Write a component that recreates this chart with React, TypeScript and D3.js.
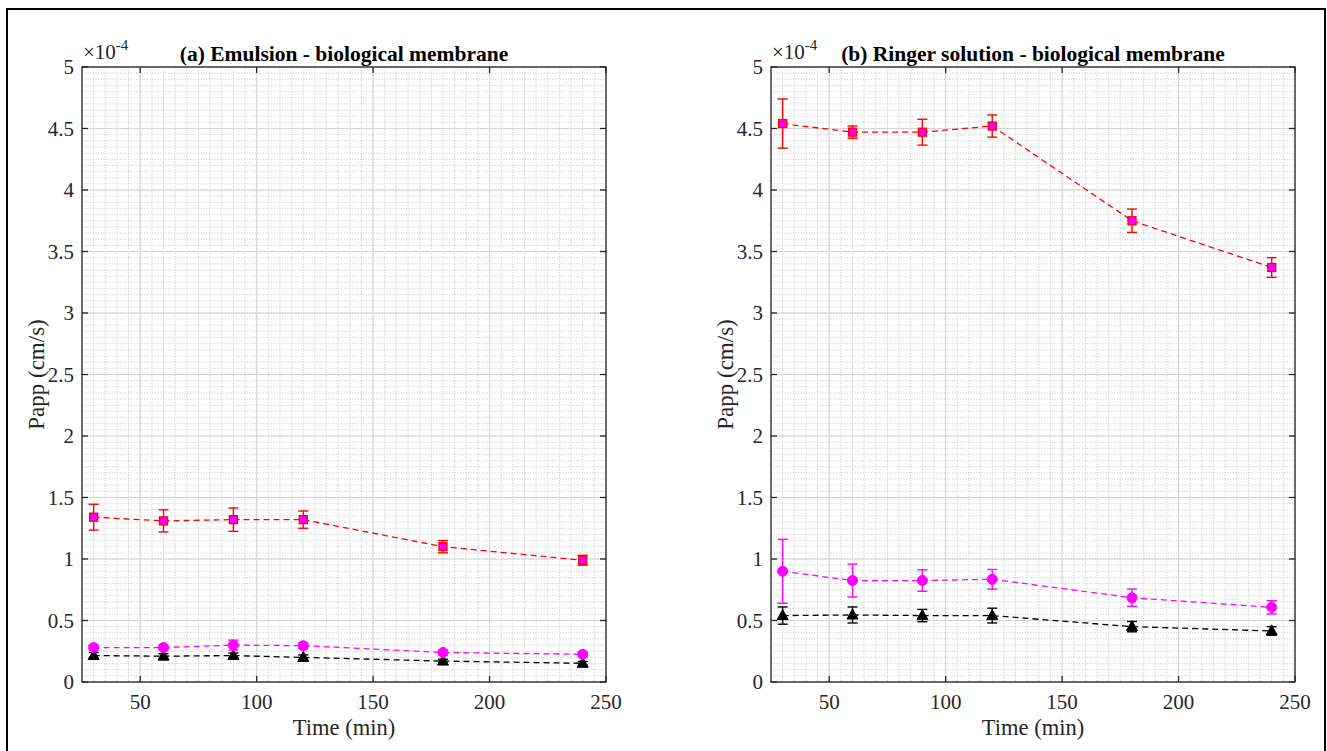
import React from "react";
import * as d3 from "d3";

const times = [30, 60, 90, 120, 180, 240];
const xTicks = [50, 100, 150, 200, 250];
const yTicks = [0, 0.5, 1, 1.5, 2, 2.5, 3, 3.5, 4, 4.5, 5];
const yTickLabels = ["0", "0.5", "1", "1.5", "2", "2.5", "3", "3.5", "4", "4.5", "5"];

// panel (a) values in units of 1e-4 cm/s
const aRed = [1.34, 1.31, 1.32, 1.32, 1.1, 0.99];
const aRedErr = [0.105, 0.09, 0.095, 0.07, 0.05, 0.04];
const aMag = [0.28, 0.28, 0.3, 0.295, 0.24, 0.225];
const aMagErr = [0.02, 0.02, 0.04, 0.025, 0.02, 0.02];
const aBlk = [0.215, 0.21, 0.215, 0.2, 0.17, 0.152];
const aBlkErr = [0.025, 0.02, 0.02, 0.02, 0.015, 0.015];

// panel (b)
const bRed = [4.54, 4.47, 4.47, 4.52, 3.75, 3.37];
const bRedErr = [0.2, 0.05, 0.105, 0.09, 0.095, 0.08];
const bMag = [0.9, 0.825, 0.825, 0.835, 0.685, 0.607];
const bMagErr = [0.26, 0.134, 0.087, 0.08, 0.07, 0.054];
const bBlk = [0.54, 0.545, 0.54, 0.54, 0.45, 0.415];
const bBlkErr = [0.07, 0.065, 0.05, 0.06, 0.042, 0.035];

const titles = ["(a) Emulsion - biological membrane", "(b) Ringer solution - biological membrane"];

const FONT = "'Liberation Serif', 'Times New Roman', Tinos, 'DejaVu Serif', serif";

type Series = { y: number[]; err: number[]; color: string; marker: "square" | "circle" | "triangle" };

function Panel({ left, title, series }: { left: number; title: string; series: Series[] }) {
  const top = 67;
  const bottom = 682;
  const width = 524;
  const x = d3.scaleLinear().domain([25, 250]).range([left, left + width]);
  const y = d3.scaleLinear().domain([0, 5]).range([bottom, top]);
  const minorX = d3.range(25, 250.01, 5);
  const minorY = d3.range(0, 5.001, 0.05);
  const line = d3
    .line<number>()
    .x((_, i) => x(times[i]))
    .y((d) => y(d));
  const boxColor = "#262626";
  const cx = left + width / 2;
  const tf = { fontFamily: FONT };
  return (
    <g>
      {minorX.map((v, i) => (
        <line key={"mx" + i} x1={x(v)} x2={x(v)} y1={top} y2={bottom} stroke="#bdbdbd" strokeWidth={0.7} strokeDasharray="1.2,1.5" />
      ))}
      {minorY.map((v, i) => (
        <line key={"my" + i} x1={left} x2={left + width} y1={y(v)} y2={y(v)} stroke="#bdbdbd" strokeWidth={0.7} strokeDasharray="1.2,1.5" />
      ))}
      {xTicks.map((v) => (
        <line key={"gx" + v} x1={x(v)} x2={x(v)} y1={top} y2={bottom} stroke="#d4d4d4" strokeWidth={1} />
      ))}
      {yTicks.map((v) => (
        <line key={"gy" + v} x1={left} x2={left + width} y1={y(v)} y2={y(v)} stroke="#d4d4d4" strokeWidth={1} />
      ))}
      {series.map((s, si) => (
        <g key={"s" + si}>
          <path d={line(s.y) || ""} fill="none" stroke={s.color} strokeWidth={1.3} strokeDasharray="6,4" />
          {s.y.map((v, i) => {
            const px = x(times[i]);
            const y1 = y(v + s.err[i]);
            const y2 = y(v - s.err[i]);
            const c = s.color;
            return (
              <g key={"e" + i}>
                <line x1={px} x2={px} y1={y1} y2={y2} stroke={c} strokeWidth={1.4} />
                <line x1={px - 5} x2={px + 5} y1={y1} y2={y1} stroke={c} strokeWidth={1.4} />
                <line x1={px - 5} x2={px + 5} y1={y2} y2={y2} stroke={c} strokeWidth={1.4} />
              </g>
            );
          })}
          {s.y.map((v, i) => {
            const px = x(times[i]);
            const py = y(v);
            if (s.marker === "square")
              return <rect key={"m" + i} x={px - 4} y={py - 4} width={8} height={8} fill="#ff00ff" stroke="#ff0000" strokeWidth={1.3} />;
            if (s.marker === "circle") return <circle key={"m" + i} cx={px} cy={py} r={5} fill="#ff00ff" stroke="#ff00ff" strokeWidth={1} />;
            return (
              <path key={"m" + i} d={`M${px},${py - 6} L${px + 5.5},${py + 4} L${px - 5.5},${py + 4} Z`} fill="#000" stroke="#000" strokeWidth={1} />
            );
          })}
        </g>
      ))}
      <rect x={left} y={top} width={width} height={bottom - top} fill="none" stroke={boxColor} strokeWidth={1.3} />
      {xTicks.map((v) => (
        <g key={"tx" + v}>
          <line x1={x(v)} x2={x(v)} y1={bottom} y2={bottom - 6} stroke={boxColor} strokeWidth={1.3} />
          <line x1={x(v)} x2={x(v)} y1={top} y2={top + 6} stroke={boxColor} strokeWidth={1.3} />
          <text x={x(v)} y={708.5} textAnchor="middle" style={tf} fontSize={21} fill="#262626">
            {v}
          </text>
        </g>
      ))}
      {yTicks.map((v, i) => (
        <g key={"ty" + v}>
          <line x1={left} x2={left + 6} y1={y(v)} y2={y(v)} stroke={boxColor} strokeWidth={1.3} />
          <line x1={left + width} x2={left + width - 6} y1={y(v)} y2={y(v)} stroke={boxColor} strokeWidth={1.3} />
          <text x={left - 8} y={y(v) + 7} textAnchor="end" style={tf} fontSize={21} fill="#262626">
            {yTickLabels[i]}
          </text>
        </g>
      ))}
      <text x={left + 1} y={59} style={tf} fontSize={21} fill="#262626">
        ×10
        <tspan dy={-9} fontSize={15}>-4</tspan>
      </text>
      <text x={cx} y={61} textAnchor="middle" style={tf} fontSize={21.5} fontWeight="bold" fill="#000">
        {title}
      </text>
      <text x={cx} y={735} textAnchor="middle" style={tf} fontSize={22.5} fill="#262626">
        Time (min)
      </text>
      <text
        transform={`translate(${left - 38},${(top + bottom) / 2}) rotate(-90)`}
        textAnchor="middle"
        style={tf}
        fontSize={23}
        fill="#262626"
      >
        Papp (cm/s)
      </text>
    </g>
  );
}

export default function App() {
  const seriesA: Series[] = [
    { y: aRed, err: aRedErr, color: "#ff0000", marker: "square" },
    { y: aMag, err: aMagErr, color: "#ff00ff", marker: "circle" },
    { y: aBlk, err: aBlkErr, color: "#000000", marker: "triangle" },
  ];
  const seriesB: Series[] = [
    { y: bRed, err: bRedErr, color: "#ff0000", marker: "square" },
    { y: bMag, err: bMagErr, color: "#ff00ff", marker: "circle" },
    { y: bBlk, err: bBlkErr, color: "#000000", marker: "triangle" },
  ];
  return (
    <svg width={1327} height={751} style={{ position: "absolute", left: 0, top: 0, background: "#fff" }}>
      <rect x={0} y={0} width={1327} height={751} fill="#fff" />
      <rect x={7} y={9} width={1318} height={744} fill="none" stroke="#000" strokeWidth={2} />
      <Panel left={82} title={titles[0]} series={[seriesA[2], seriesA[1], seriesA[0]]} />
      <Panel left={771} title={titles[1]} series={[seriesB[2], seriesB[1], seriesB[0]]} />
    </svg>
  );
}
